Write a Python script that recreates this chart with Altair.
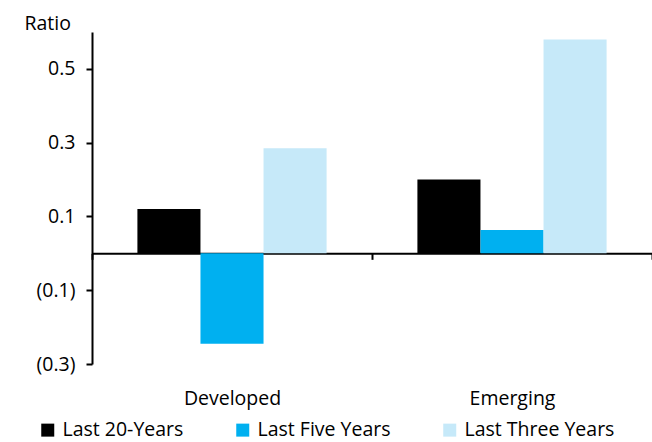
import altair as alt
import pandas as pd

# Ratio by region over three look-back periods
regions = ["Developed", "Emerging"]
periods = ["Last 20-Years", "Last Five Years", "Last Three Years"]
last_20_years = [0.12, 0.20]
last_five_years = [-0.245, 0.063]
last_three_years = [0.285, 0.58]
colors = ["#000000", "#00B0F0", "#C6E9F9"]
y_ticks = [-0.3, -0.1, 0.1, 0.3, 0.5]
y_domain = [-0.3, 0.6]

rows = []
for series, vals in zip(periods, [last_20_years, last_five_years, last_three_years]):
    for region, v in zip(regions, vals):
        rows.append({"region": region, "period": series, "ratio": v})
df = pd.DataFrame(rows)

W, H = 560, 332
FONT = "Open Sans"
FS = 19.5
# pull the category axis up so its line sits on the zero value
zero_offset = -H * (0 - y_domain[0]) / (y_domain[1] - y_domain[0])

label_expr = (
    "datum.value < 0 ? '(' + format(-datum.value, '.1f') + ')' "
    ": format(datum.value, '.1f') + '\u00a0'"
)

chart = (
    alt.Chart(df)
    .mark_bar()
    .encode(
        x=alt.X(
            "region:N",
            sort=regions,
            scale=alt.Scale(paddingInner=0, paddingOuter=0),
            axis=alt.Axis(
                title=None,
                labelAngle=0,
                offset=zero_offset,
                domainColor="black",
                domainWidth=2,
                tickColor="black",
                tickWidth=2,
                tickSize=6,
                tickBand="extent",
                labelPadding=130,
                labelFont=FONT,
                labelFontSize=FS,
                labelColor="black",
            ),
        ),
        xOffset=alt.XOffset(
            "period:N",
            sort=periods,
            scale=alt.Scale(paddingInner=0, paddingOuter=0.72),
        ),
        y=alt.Y(
            "ratio:Q",
            scale=alt.Scale(domain=y_domain, nice=False),
            axis=alt.Axis(
                values=y_ticks,
                grid=False,
                labelExpr=label_expr,
                domainColor="black",
                domainWidth=2,
                tickColor="black",
                tickWidth=2,
                tickSize=6,
                labelPadding=11,
                labelFont=FONT,
                labelFontSize=FS,
                labelColor="black",
                title="Ratio",
                titleAngle=0,
                titleAlign="left",
                titleBaseline="alphabetic",
                titleX=-68,
                titleY=-3,
                titleFont=FONT,
                titleFontSize=FS,
                titleFontWeight="normal",
                titleColor="black",
            ),
        ),
        color=alt.Color(
            "period:N",
            sort=periods,
            scale=alt.Scale(domain=periods, range=colors),
            legend=alt.Legend(
                title=None,
                orient="none",
                direction="horizontal",
                legendX=-54,
                legendY=388,
                padding=0,
                columnPadding=49,
                labelOffset=5,
                symbolType="square",
                symbolSize=169,
                symbolStrokeWidth=0,
                labelFont=FONT,
                labelFontSize=FS,
                labelColor="black",
            ),
        ),
    )
    .properties(
        width=W,
        height=H,
        padding={"left": 92, "top": 32, "right": 0, "bottom": 78},
        autosize=alt.AutoSizeParams(type="none"),
    )
    .configure_view(stroke=None)
)

chart.save("out.html", embed_options={"renderer": "svg", "actions": False})
